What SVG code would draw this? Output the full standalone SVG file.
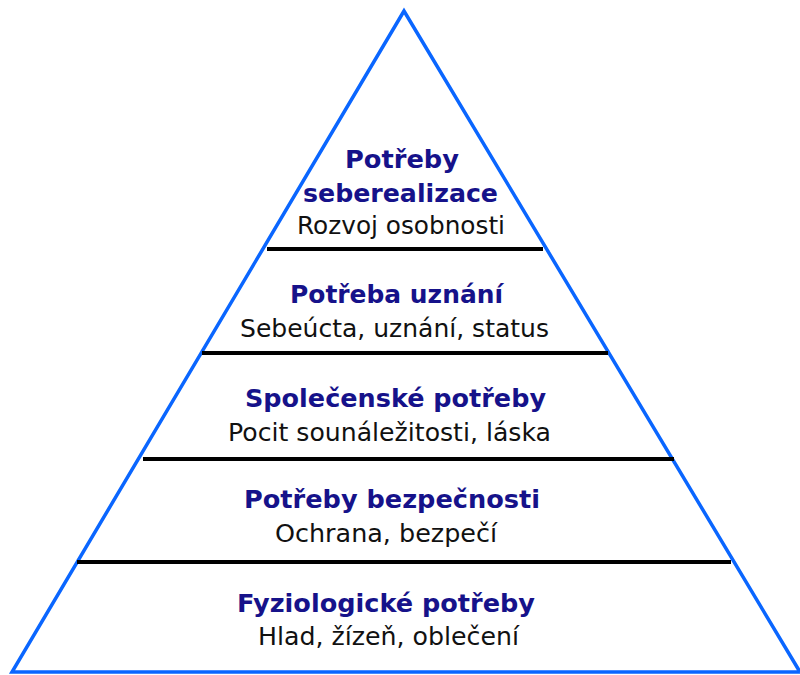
<svg xmlns="http://www.w3.org/2000/svg" width="800" height="675" viewBox="0 0 800 675">
<style>
.tri{fill:#fff;stroke:#0a66ff;stroke-width:3.5;stroke-linejoin:miter}
.sep{stroke:#000;stroke-width:4}
.t{font-family:"DejaVu Sans",Verdana,sans-serif;font-size:25px;font-weight:bold;fill:#16128a;text-anchor:middle}
.s{font-family:"DejaVu Sans",Verdana,sans-serif;font-size:25px;fill:#111;text-anchor:middle}
</style>
<rect width="800" height="675" fill="#fff"/>
<polygon class="tri" points="404,11 12,672 800,672"/>
<g id="connectors">
<line class="sep" x1="267" y1="249" x2="543" y2="249"/>
<line class="sep" x1="202" y1="353" x2="608" y2="353"/>
<line class="sep" x1="143" y1="459" x2="674" y2="459"/>
<line class="sep" x1="77" y1="562" x2="731" y2="562"/>
</g>
<g id="level5">
<text class="t" x="402" y="168" textLength="114" lengthAdjust="spacingAndGlyphs">Potřeby</text>
<text class="t" x="400.5" y="202" textLength="195" lengthAdjust="spacingAndGlyphs">seberealizace</text>
<text class="s" x="401" y="234" textLength="208" lengthAdjust="spacingAndGlyphs">Rozvoj osobnosti</text>
</g>
<g id="level4">
<text class="t" x="396.5" y="303" textLength="213" lengthAdjust="spacingAndGlyphs">Potřeba uznání</text>
<text class="s" x="394.5" y="337" textLength="309" lengthAdjust="spacingAndGlyphs">Sebeúcta, uznání, status</text>
</g>
<g id="level3">
<text class="t" x="395.5" y="407" textLength="301" lengthAdjust="spacingAndGlyphs">Společenské potřeby</text>
<text class="s" x="389.5" y="441" textLength="323" lengthAdjust="spacingAndGlyphs">Pocit sounáležitosti, láska</text>
</g>
<g id="level2">
<text class="t" x="392" y="508" textLength="296" lengthAdjust="spacingAndGlyphs">Potřeby bezpečnosti</text>
<text class="s" x="386" y="542" textLength="222" lengthAdjust="spacingAndGlyphs">Ochrana, bezpečí</text>
</g>
<g id="level1">
<text class="t" x="386" y="612" textLength="298" lengthAdjust="spacingAndGlyphs">Fyziologické potřeby</text>
<text class="s" x="388.5" y="645" textLength="261" lengthAdjust="spacingAndGlyphs">Hlad, žízeň, oblečení</text>
</g>
</svg>
